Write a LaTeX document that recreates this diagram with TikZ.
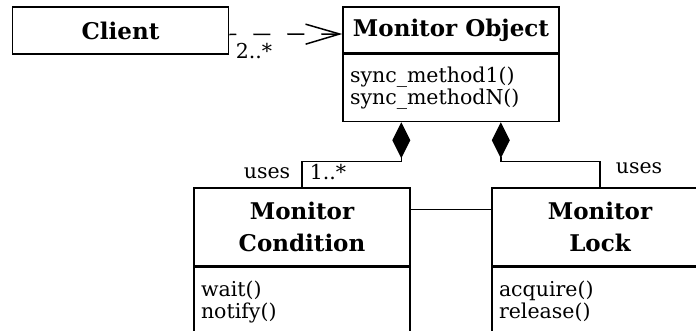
\documentclass[tikz,border=0pt]{standalone}
\usepackage{fontspec}
\setmainfont{DejaVu Serif}
\usetikzlibrary{arrows.meta,positioning}

\begin{document}
\begin{tikzpicture}[x=1pt, y=-1pt,
  box/.style={draw, line width=1.5pt, minimum width=216pt, inner sep=0pt,
    align=center, font=\bfseries\fontsize{23}{32}\selectfont},
  ops/.style={draw, line width=1.5pt, minimum width=216pt, text width=202pt,
    inner sep=0pt, align=left, font=\fontsize{20.5}{22}\selectfont},
  lbl/.style={inner sep=0pt, font=\fontsize{20.5}{22}\selectfont},
  part/.style={{Diamond[length=36pt,width=18pt]}-, line width=1.5pt}]
  \clip (0,0) rectangle (696,330);
  % classes
  \node[box, minimum height=47pt] (client) at (120.5,30.5) {Client};
  \node[box, minimum height=46pt] (obj) at (451,30) {Monitor Object};
  \node[ops, minimum height=67pt, below=0pt of obj] (objops) {sync\_method1()\\sync\_methodN()};
  \node[box, minimum height=78pt] (cond) at (302,227) {Monitor\\Condition};
  \node[ops, minimum height=68pt, below=0pt of cond] (condops) {wait()\\notify()};
  \node[box, minimum height=78pt] (lock) at (600,227) {Monitor\\Lock};
  \node[ops, minimum height=68pt, below=0pt of lock] (lockops) {acquire()\\release()};
  % relations
  \draw[line width=1.5pt, dash pattern=on 17pt off 17pt, dash phase=10pt,
    -{Straight Barb[length=34pt,width=20pt]}]
    ([yshift=-4pt]client.east) -- ([yshift=-4pt]obj.west);
  \node[lbl] (mult) at (254,51) {2..*};
  \draw[part] ([xshift=59pt]objops.south west) -- ++(0,39) -| (cond.north);
  \draw[part] ([xshift=-59pt]objops.south east) -- ++(0,39) -| (lock.north);
  \draw[line width=1.5pt] ([yshift=-22pt]cond.north east) -- ([yshift=-22pt]lock.north west);
  \node[lbl] (usescond) at (267,173) {uses};
  \node[lbl] (multcond) at (328,172) {1..*};
  \node[lbl] (useslock) at (639,168) {uses};
\end{tikzpicture}
\end{document}
